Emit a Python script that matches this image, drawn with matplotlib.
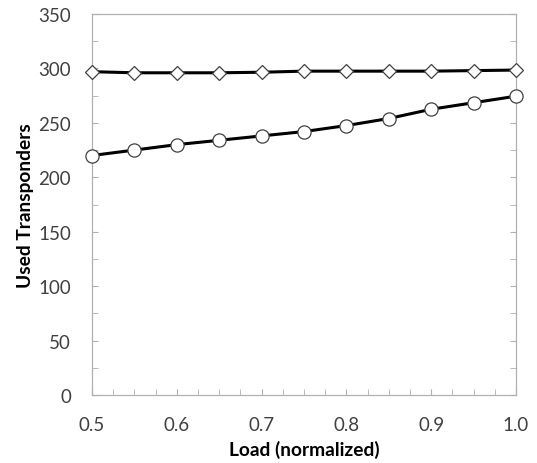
#!/usr/bin/env python3

import matplotlib
matplotlib.use("Agg")
import matplotlib.pyplot as plt
import numpy as np

# data
load = [0.5, 0.55, 0.6, 0.65, 0.7, 0.75, 0.8, 0.85, 0.9, 0.95, 1.0]
diamond_vals = [297, 296, 296, 296, 296.5, 297.5, 297.5, 297.5, 297.5, 298, 298.5]
circle_vals = [220, 225, 230, 234, 238, 242, 247.5, 254, 262.5, 268.5, 274.5]

x_ticks = [0.5, 0.6, 0.7, 0.8, 0.9, 1.0]
y_ticks = [0, 50, 100, 150, 200, 250, 300, 350]

plt.rcParams['font.family'] = ['Lato', 'DejaVu Sans']

fig = plt.figure(figsize=(5.37, 4.64), dpi=100)
ax = fig.add_axes([92 / 537, 1 - 396 / 464, (516 - 92) / 537, (396 - 15) / 464])

ax.plot(load, diamond_vals, color='black', linewidth=2.2, marker='D',
        markersize=7.3, markerfacecolor='white', markeredgecolor='#404040',
        markeredgewidth=0.9, zorder=3, clip_on=False)
ax.plot(load, circle_vals, color='black', linewidth=2.2, marker='o',
        markersize=9.5, markerfacecolor='white', markeredgecolor='#404040',
        markeredgewidth=0.9, zorder=3, clip_on=False)

ax.set_xlim(0.5, 1.0)
ax.set_ylim(0, 350)
ax.set_xticks(x_ticks)
ax.set_xticklabels([f"{v:.1f}" for v in x_ticks])
ax.set_xticks(np.arange(0.5, 1.001, 0.025), minor=True)
ax.set_yticks(y_ticks)
ax.set_yticks(np.arange(0, 351, 25), minor=True)

for s in ax.spines.values():
    s.set_color('#b0b0b0')
    s.set_linewidth(0.9)

ax.tick_params(which='both', direction='in', color='#b0b0b0', right=True,
               labelsize=13.5, labelcolor='#404040', length=4)
ax.tick_params(axis='x', pad=15)
ax.tick_params(axis='y', pad=15)

ax.set_xlabel("Load (normalized)", fontsize=13.8, fontweight='bold')
ax.set_ylabel("Used Transponders", fontsize=13.8, fontweight='bold')
ax.xaxis.set_label_coords(0.5, -0.118)
ax.yaxis.set_label_coords(-0.137, 0.5)

fig.savefig("out.png", dpi=100)
